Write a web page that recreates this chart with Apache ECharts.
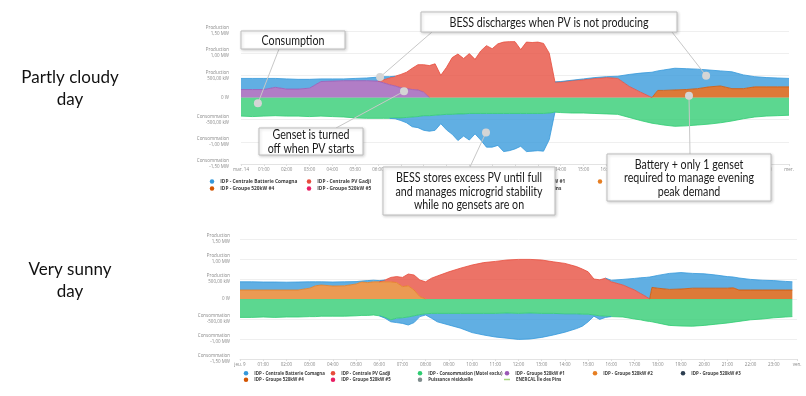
<!DOCTYPE html>
<html>
<head>
<meta charset="utf-8">
<script src="https://cdn.jsdelivr.net/npm/echarts@6/dist/echarts.min.js"></script>
<style>
  html, body { margin: 0; padding: 0; background: #fff; }
  #chart { width: 806px; height: 396px; }
</style>
</head>
<body>
<div id="chart"></div>
<script>
// ---- data (MW, hour of day) ----

// partly cloudy day
const hoursCloudy = [0, 0.5, 1, 1.5, 2, 2.5, 3, 3.5, 4, 4.5, 5, 5.5, 6,
  6.25, 6.5, 6.75, 7, 7.25, 7.5, 7.75, 8, 8.25, 8.5, 8.75, 9, 9.25, 9.5, 9.75, 10,
  10.25, 10.5, 10.75, 11, 11.25, 11.5, 11.75, 12, 12.25, 12.5, 12.75, 13, 13.25, 13.5, 13.75,
  14, 14.5, 15, 15.5, 16, 16.5, 17, 17.5, 18, 18.25,
  18.5, 19, 19.5, 20, 20.5, 21, 21.5, 22, 22.5, 23, 23.5, 24];
const consCloudy = [-0.42, -0.43, -0.42, -0.41, -0.42, -0.42, -0.43, -0.42, -0.43, -0.44, -0.46, -0.47, -0.47,
  -0.47, -0.47, -0.46, -0.46, -0.45, -0.44, -0.43, -0.41, -0.41, -0.40, -0.39, -0.38, -0.38, -0.37, -0.37, -0.36,
  -0.36, -0.36, -0.36, -0.36, -0.36, -0.36, -0.36, -0.36, -0.36, -0.36, -0.36, -0.36, -0.36, -0.35, -0.33,
  -0.34, -0.35, -0.35, -0.36, -0.37, -0.38, -0.45, -0.52, -0.58, -0.60,
  -0.62, -0.65, -0.64, -0.62, -0.60, -0.57, -0.53, -0.48, -0.44, -0.42, -0.41, -0.40];
const genset1Cloudy = [0.18, 0.18, 0.18, 0.23, 0.19, 0.19, 0.21, 0.36, 0.37, 0.38, 0.38, 0.38, 0.37,
  0.33, 0.29, 0.26, 0.22, 0.20, 0.18, 0.17, 0.12, 0, null, null, null, null, null, null, null,
  null, null, null, null, null, null, null, null, null, null, null, null, null, null, null,
  null, null, null, null, null, null, null, null, null, null,
  null, null, null, null, null, null, null, null, null, null, null, null];
const genset4Cloudy = [null, null, null, null, null, null, null, null, null, null, null, null, null,
  null, null, null, null, null, null, null, null, null, null, null, null, null, null, null, null,
  null, null, null, null, null, null, null, null, null, null, null, null, null, null, null,
  null, null, null, null, null, null, null, null, 0, 0.16,
  0.16, 0.17, 0.18, 0.20, 0.24, 0.26, 0.20, 0.20, 0.24, 0.24, 0.24, 0.24];
const pvCloudy = [null, null, null, null, null, null, null, null, null, null, null, null, 0,
  0.07, 0.15, 0.22, 0.30, 0.37, 0.48, 0.57, 0.62, 0.72, 0.76, 0.50, 0.68, 0.90, 0.98, 0.88, 0.99,
  0.86, 1.05, 1.17, 1.10, 1.21, 1.25, 1.26, 1.26, 1.08, 1.25, 1.24, 1.25, 1.22, 1.00, 0.35,
  0.35, 0.38, 0.40, 0.43, 0.45, 0.43, 0.25, 0.12, 0, null,
  null, null, null, null, null, null, null, null, null, null, null, null];
const battOutCloudy = [0.25, 0.25, 0.25, 0.20, 0.23, 0.22, 0.20, 0.06, 0.05, 0.04, 0.05, 0.06, 0.09,
  0.07, 0.03, 0, null, null, null, null, null, null, null, null, null, null, null, null, null,
  null, null, null, null, null, null, null, null, null, null, null, null, null, null, 0,
  0.01, 0.01, 0.02, 0.02, 0.02, 0.05, 0.27, 0.43, 0.57, 0.44,
  0.46, 0.49, 0.47, 0.44, 0.38, 0.34, 0.38, 0.31, 0.23, 0.21, 0.20, 0.19];
const battInCloudy = [null, null, null, null, null, null, null, null, null, null, null, null, null,
  null, 0, -0.02, -0.06, -0.12, -0.22, -0.25, -0.33, -0.35, -0.34, -0.20, -0.35, -0.45, -0.60, -0.50, -0.60,
  -0.46, -0.60, -0.76, -0.76, -0.72, -0.86, -0.84, -0.80, -0.74, -0.86, -0.85, -0.84, -0.85, -0.60, 0,
  null, null, null, null, null, null, null, null, null, null,
  null, null, null, null, null, null, null, null, null, null, null, null];

// very sunny day
const hoursSunny = [0, 0.5, 1, 1.5, 2, 2.5, 3, 3.25, 3.5, 4, 4.5, 5,
  5.25, 5.5, 5.75, 6, 6.25, 6.5, 6.75, 7, 7.25, 7.5, 7.75, 8, 8.25,
  8.5, 9, 9.5, 10, 10.5, 11, 11.5, 12, 12.5, 13, 13.5, 14, 14.5,
  14.75, 15, 15.25, 15.5, 15.75, 16, 16.5, 17, 17.25, 17.5, 17.65, 17.75,
  18, 18.5, 19, 19.5, 20, 20.5, 21, 21.25, 21.5, 22, 22.5, 23, 23.5, 23.8];
const consSunny = [-0.46, -0.46, -0.45, -0.46, -0.45, -0.45, -0.44, -0.44, -0.43, -0.43, -0.43, -0.42,
  -0.41, -0.41, -0.40, -0.42, -0.46, -0.52, -0.48, -0.47, -0.45, -0.42, -0.39, -0.37, -0.36,
  -0.36, -0.36, -0.36, -0.36, -0.36, -0.36, -0.35, -0.36, -0.35, -0.36, -0.36, -0.37, -0.37,
  -0.38, -0.38, -0.40, -0.42, -0.43, -0.44, -0.45, -0.50, -0.52, -0.55, -0.56, -0.57,
  -0.60, -0.66, -0.675, -0.68, -0.66, -0.63, -0.60, -0.58, -0.56, -0.52, -0.50, -0.47, -0.45, -0.44];
const genset2Sunny = [0.225, 0.225, 0.225, 0.225, 0.225, 0.225, 0.27, 0.33, 0.35, 0.325, 0.33, 0.375,
  0.43, 0.41, 0.43, 0.43, 0.43, 0.43, 0.41, 0.31, 0.33, 0.225, 0.06, 0, null,
  null, null, null, null, null, null, null, null, null, null, null, null, null,
  null, null, null, null, null, null, null, null, null, null, null, null,
  null, null, null, null, null, null, null, null, null, null, null, null, null, null];
const genset4Sunny = [null, null, null, null, null, null, null, null, null, null, null, null,
  null, null, null, null, null, null, null, null, null, null, null, null, null,
  null, null, null, null, null, null, null, null, null, null, null, null, null,
  null, null, null, null, null, null, null, null, null, null, 0, 0.29,
  0.27, 0.24, 0.25, 0.27, 0.27, 0.27, 0.27, 0.28, 0.225, 0.225, 0.225, 0.225, 0.225, 0.225];
const pvSunny = [null, null, null, null, null, null, null, null, null, null, null, null,
  null, null, null, 0, 0.045, 0.11, 0.15, 0.23, 0.295, 0.375, 0.415, 0.43, 0.52,
  0.575, 0.68, 0.77, 0.85, 0.91, 0.94, 0.975, 0.99, 0.99, 0.975, 0.93, 0.89, 0.81,
  0.75, 0.68, 0.50, 0.48, 0.52, 0.43, 0.35, 0.225, 0.14, 0.06, 0, null,
  null, null, null, null, null, null, null, null, null, null, null, null, null, null];
const battOutSunny = [0.205, 0.205, 0.20, 0.20, 0.195, 0.20, 0.16, 0.10, 0.08, 0.10, 0.10, 0.06,
  0.02, 0.05, 0.04, 0.03, 0, null, null, null, null, null, null, null, null,
  null, null, null, null, null, null, null, null, null, null, null, null, null,
  null, null, null, null, 0, 0.04, 0.14, 0.29, 0.39, 0.48, 0.55, 0.27,
  0.32, 0.40, 0.41, 0.37, 0.36, 0.33, 0.29, 0.27, 0.30, 0.265, 0.245, 0.235, 0.215, 0.205];
const battInSunny = [null, null, null, null, null, null, null, null, null, null, null, null,
  null, null, null, 0, -0.02, -0.05, -0.11, -0.14, -0.20, -0.17, -0.05, -0.03, -0.12,
  -0.21, -0.29, -0.37, -0.48, -0.54, -0.59, -0.63, -0.65, -0.65, -0.60, -0.54, -0.46, -0.37,
  -0.30, -0.19, -0.03, -0.09, -0.03, 0, null, null, null, null, null, null,
  null, null, null, null, null, null, null, null, null, null, null, null, null, null];

// axis tick labels
const yTickValues = [-1.5, -1, -0.5, 0, 0.5, 1, 1.5];
const yTickLabels = ['Consommation\n-1,50 MW', 'Consommation\n-1,00 MW', 'Consommation\n-500,00 kW', '0 W',
  'Production\n500,00 kW', 'Production\n1,00 MW', 'Production\n1,50 MW'];
const hourLabels = ['01:00', '02:00', '03:00', '04:00', '05:00', '06:00', '07:00', '08:00', '09:00', '10:00',
  '11:00', '12:00', '13:00', '14:00', '15:00', '16:00', '17:00', '18:00', '19:00', '20:00', '21:00', '22:00', '23:00'];
const dayLabelsCloudy = ['mar. 14', 'mer.'];
const dayLabelsSunny = ['jeu. 9', 'ven.'];

// legend entries, in screen order (6 columns, 2 rows)
const legendNames = [
  'IDP - Centrale Batterie Comagna', 'IDP - Centrale PV Gadji', 'IDP - Consommation (Motel exclu)',
  'IDP - Groupe 520kW #1', 'IDP - Groupe 520kW #2', 'IDP - Groupe 520kW #3',
  'IDP - Groupe 520kW #4', 'IDP - Groupe 520kW #5', 'Puissance résiduelle', 'ENERCAL Île des Pins'
];
const colors = {
  'IDP - Centrale Batterie Comagna': '#3498db',
  'IDP - Centrale PV Gadji': '#e74c3c',
  'IDP - Consommation (Motel exclu)': '#2ecc71',
  'IDP - Groupe 520kW #1': '#9b59b6',
  'IDP - Groupe 520kW #2': '#e67e22',
  'IDP - Groupe 520kW #3': '#2c3e50',
  'IDP - Groupe 520kW #4': '#d35400',
  'IDP - Groupe 520kW #5': '#e91e63',
  'Puissance résiduelle': '#7f8c8d',
  'ENERCAL Île des Pins': '#a5d67f'
};

const BATT = legendNames[0], PV = legendNames[1], CONS = legendNames[2];
const G1 = legendNames[3], G2 = legendNames[4], G4 = legendNames[6];

const HOUR = 3600 * 1000;
const dayStart = Date.UTC(2023, 2, 14);   // time axis origin, labels are drawn by hand
const toTime = h => dayStart + h * HOUR;

function area(name, grid, stack, hours, values) {
  const c = colors[name];
  return {
    name: name,
    type: 'line',
    xAxisIndex: grid,
    yAxisIndex: grid,
    stack: stack,
    stackStrategy: 'samesign',
    data: hours.map((h, i) => [toTime(h), values[i]]),
    showSymbol: false,
    symbol: 'none',
    lineStyle: { width: 0.8, color: c },
    itemStyle: { color: c },
    areaStyle: { color: c, opacity: 0.78 },
    emphasis: { disabled: true },
    z: 2
  };
}

const series = [
  area(CONS, 0, 'negTop', hoursCloudy, consCloudy),
  area(BATT, 0, 'negTop', hoursCloudy, battInCloudy),
  area(G1, 0, 'posTop', hoursCloudy, genset1Cloudy),
  area(G4, 0, 'posTop', hoursCloudy, genset4Cloudy),
  area(PV, 0, 'posTop', hoursCloudy, pvCloudy),
  area(BATT, 0, 'posTop', hoursCloudy, battOutCloudy),

  area(CONS, 1, 'negBot', hoursSunny, consSunny),
  area(BATT, 1, 'negBot', hoursSunny, battInSunny),
  area(G2, 1, 'posBot', hoursSunny, genset2Sunny),
  area(G4, 1, 'posBot', hoursSunny, genset4Sunny),
  area(PV, 1, 'posBot', hoursSunny, pvSunny),
  area(BATT, 1, 'posBot', hoursSunny, battOutSunny)
];
// legend-only entries (no data shown on these days)
['IDP - Groupe 520kW #3', 'IDP - Groupe 520kW #5', 'Puissance résiduelle', 'ENERCAL Île des Pins'].forEach(n => {
  series.push({ name: n, type: 'line', data: [], itemStyle: { color: colors[n] }, lineStyle: { color: colors[n] } });
});

const grids = [
  { left: 241, top: 31, width: 548, height: 133 },
  { left: 240, top: 239, width: 557, height: 120 }
];

function xAxisFor(grid, dayLabels) {
  return {
    type: 'time', gridIndex: grid, min: toTime(0), max: toTime(24),
    minInterval: HOUR, maxInterval: HOUR, splitNumber: 24,
    axisLine: { onZero: false, lineStyle: { color: '#e3e3e3', width: 1 } },
    axisTick: { show: true, length: 2, lineStyle: { color: '#dddddd' } },
    splitLine: { show: false },
    axisLabel: {
      fontSize: 4.5, color: '#888', margin: 3, fontFamily: 'Open Sans', fontWeight: 'normal',
      showMinLabel: true, showMaxLabel: true, hideOverlap: false,
      formatter: v => {
        const h = Math.round((v - dayStart) / HOUR);
        return h === 0 ? dayLabels[0] : (h === 24 ? dayLabels[1] : (hourLabels[h - 1] || ''));
      }
    }
  };
}
function yAxisFor(grid, margin) {
  return {
    type: 'value', gridIndex: grid, min: -1.5, max: 1.5, interval: 0.5,
    axisLine: { show: false }, axisTick: { show: false },
    splitLine: { lineStyle: { color: '#efefef', width: 1 } },
    axisLabel: {
      fontSize: 4.5, lineHeight: 6, color: '#888', margin: margin, align: 'right', fontFamily: 'Open Sans',
      showMinLabel: true, showMaxLabel: true,
      formatter: v => yTickLabels[yTickValues.indexOf(v)]
    }
  };
}

// legend placement: dot centres per column and row
const legendLayouts = [
  { cols: [212, 309, 406, 503, 600, 697], rows: [182, 189], font: 4.8 },
  { cols: [246, 333, 420, 507, 595, 683], rows: [374, 380.5], font: 4.4 }
];
const legends = [];
legendLayouts.forEach(lay => {
  legendNames.forEach((n, k) => {
    const isLine = n === 'ENERCAL Île des Pins';
    const w = isLine ? 6 : 4.5, h = isLine ? 1.5 : 4.5;
    legends.push({
      data: [n], orient: 'horizontal', padding: 0, itemGap: 0,
      icon: isLine ? 'rect' : 'circle', itemWidth: w, itemHeight: h,
      left: lay.cols[k % 6] - w / 2, top: lay.rows[Math.floor(k / 6)] - 3,
      selectedMode: false,
      textStyle: { fontSize: lay.font, fontWeight: 'bold', color: '#3a3a3a', fontFamily: 'Open Sans', padding: [0, 0, 0, 1] }
    });
  });
});

const option = {
  animation: false,
  useUTC: true,
  backgroundColor: '#fff',
  grid: grids,
  xAxis: [xAxisFor(0, dayLabelsCloudy), xAxisFor(1, dayLabelsSunny)],
  yAxis: [yAxisFor(0, 12), yAxisFor(1, 10)],
  legend: legends,
  series: series
};

const chart = echarts.init(document.getElementById('chart'), null, { renderer: 'canvas' });
chart.setOption(option);

// callouts: box (px), text, leaders from box edge (px) to a point in the cloudy chart (hour, MW)
const callouts = [
  { box: [241, 31, 104, 18], text: 'Consumption', leaders: [{ from: [279, 49], at: [0.74, -0.13] }] },
  { box: [421, 12, 256, 20], text: 'BESS discharges when PV is not producing',
    leaders: [{ from: [432, 32], at: [6.09, 0.46] }, { from: [672, 32], at: [20.37, 0.49] }] },
  { box: [259, 128, 104, 27], text: 'Genset is turned\noff when PV starts', leaders: [{ from: [336, 128], at: [7.14, 0.14] }] },
  { box: [383, 167, 172, 48], text: 'BESS stores excess PV until full\nand manages microgrid stability\nwhile no gensets are on',
    leaders: [{ from: [470, 167], at: [10.73, -0.79] }] },
  { box: [607, 154, 164, 47], text: 'Battery + only 1 genset\nrequired to manage evening\npeak demand',
    leaders: [{ from: [690, 154], at: [19.62, 0.04] }] }
];

const g = [];
callouts.forEach(c => {
  c.leaders.forEach(l => {
    const p = chart.convertToPixel({ xAxisIndex: 0, yAxisIndex: 0 }, [toTime(l.at[0]), l.at[1]]);
    g.push({ type: 'line', z: 100, shape: { x1: l.from[0], y1: l.from[1], x2: p[0], y2: p[1] },
      style: { stroke: '#c8c8c8', lineWidth: 1 } });
    g.push({ type: 'circle', z: 103, shape: { cx: p[0], cy: p[1], r: 4 }, style: { fill: '#d5d5d5' } });
  });
  const [bx, by, bw, bh] = c.box;
  g.push({ type: 'rect', z: 101, shape: { x: bx, y: by, width: bw, height: bh },
    style: { fill: '#fff', stroke: '#bdbdbd', lineWidth: 1, shadowBlur: 3, shadowOffsetX: 1, shadowOffsetY: 1, shadowColor: 'rgba(0,0,0,0.18)' } });
  g.push({ type: 'text', z: 102, x: bx + bw / 2, y: by + bh / 2 + 0.5, scaleX: 0.82,
    style: { text: c.text, x: 0, y: 0, align: 'center', verticalAlign: 'middle', fill: '#1a1a1a',
      fontSize: 13, lineHeight: 13.5, fontFamily: 'Lato' } });
});
// day captions on the left
[['Partly cloudy\nday', 89], ['Very sunny\nday', 281]].forEach(([t, y]) => {
  g.push({ type: 'text', z: 102, x: 70, y: y,
    style: { text: t, x: 0, y: 0, align: 'center', verticalAlign: 'middle', fill: '#111',
      fontSize: 17, lineHeight: 22, fontFamily: 'Lato' } });
});
chart.setOption({ graphic: g });
</script>
</body>
</html>
